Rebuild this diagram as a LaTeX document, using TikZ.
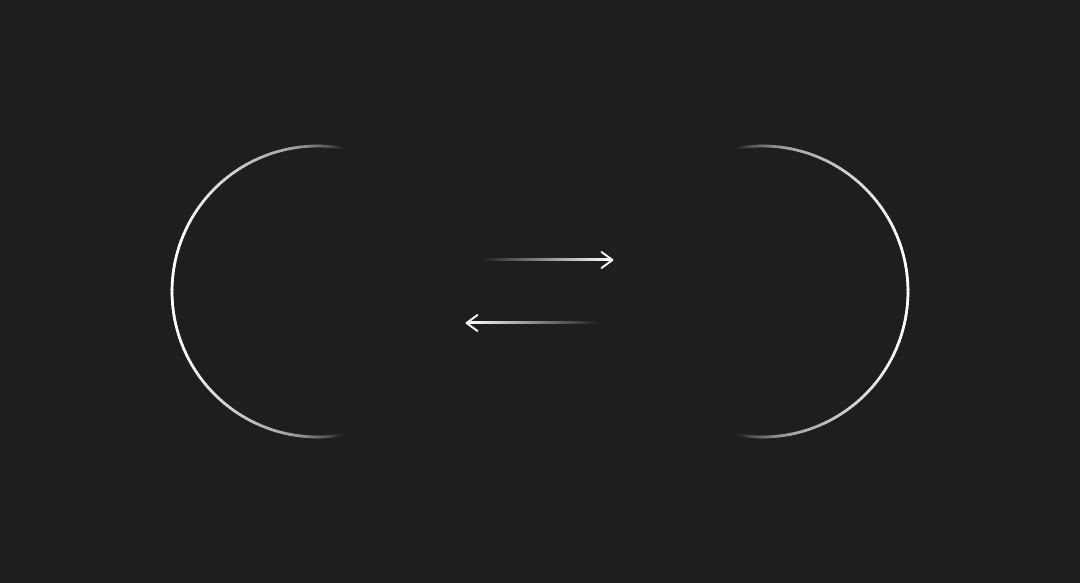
\documentclass[tikz,border=0pt]{standalone}
\begin{document}
\begin{tikzpicture}[x=1pt,y=1pt]
\definecolor{bg}{RGB}{30,30,30}
\tikzset{
  arcseg/.style={line width=2.7pt, line cap=round},
  chevron/.style={draw=white, line width=1.9pt, line cap=round, line join=round}
}
\fill[bg] (0,0) rectangle (1080,583);
\useasboundingbox (0,0) rectangle (1080,583);
% two arcs (left, and mirrored right)
\foreach \m in {1,-1}{
  \begin{scope}[shift={({(1-\m)*540},0)}, xscale=\m]
    \foreach \a in {80,81.5,...,278.5}{
      \pgfmathsetmacro\d{abs(\a+0.75-180)}
      \pgfmathsetmacro\p{\d<70 ? 100-35*(\d/70)^2 : max(0,65*(1-((\d-70)/30)^2))}
      \draw[arcseg, color=white!\p!bg] ([shift={(317.5,291.5)}]\a:145.5) arc[start angle=\a, end angle=\a+1.8, radius=145.5];
    }
  \end{scope}
}
% arrows
\coordinate (a1s) at (480,323);
\coordinate (a1e) at (612.5,323);
\shade[left color=bg, right color=white] (480,322) rectangle (611,324);
\draw[chevron] (601.5,331) -- (a1e) -- (601.5,315);
\coordinate (a2s) at (598,260);
\coordinate (a2e) at (466.5,260);
\shade[left color=white, right color=bg] (468,259) rectangle (598,261);
\draw[chevron] (477.5,268) -- (a2e) -- (477.5,252);
\end{tikzpicture}
\end{document}
